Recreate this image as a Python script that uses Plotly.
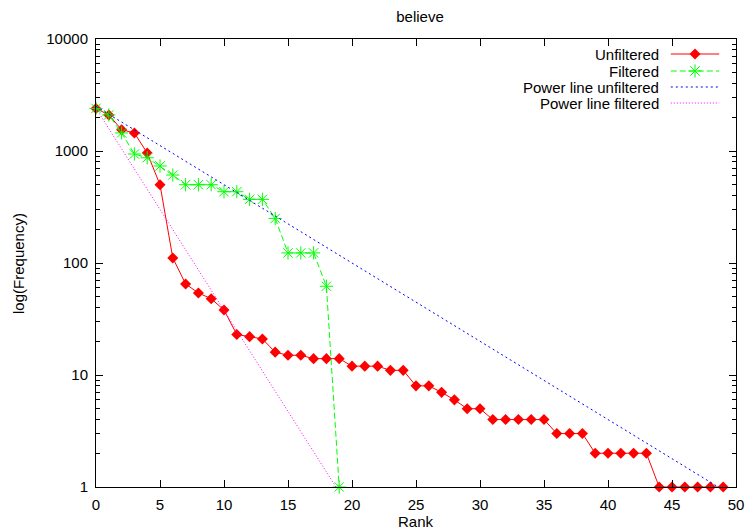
import plotly.graph_objects as go

# ---- data ----
rank = list(range(50))
unfiltered = [2400, 2100, 1550, 1450, 960, 500, 111, 65, 54, 48,
              38, 23, 22, 21, 16, 15, 15, 14, 14, 14,
              12, 12, 12, 11, 11, 8, 8, 7, 6, 5,
              5, 4, 4, 4, 4, 4, 3, 3, 3, 2,
              2, 2, 2, 2, 1, 1, 1, 1, 1, 1]
rank_filtered = list(range(20))
filtered = [2400, 2100, 1450, 940, 870, 735, 610, 500, 500, 500,
            433, 433, 370, 370, 250, 123, 123, 123, 62, 1]
power_unf_x = [0, 49]
power_unf_y = [2500, 0.94]
power_filt_x = [0, 19]
power_filt_y = [2400, 0.9]

x_ticks = [0, 5, 10, 15, 20, 25, 30, 35, 40, 45, 50]
y_ticks = [1, 10, 100, 1000, 10000]
y_ticktext = ["1", "10", "100", "1000", "10000"]
legend_names = ["Unfiltered", "Filtered", "Power line unfiltered", "Power line filtered"]

FONT = "Liberation Sans, Arial, Helvetica, sans-serif"
FS = 15
RED, GREEN, BLUE, MAG = "#ff0000", "#00ff00", "#0000ff", "#ff00ff"

styles = [
    dict(line=dict(color=RED, width=1), marker=dict(symbol="diamond", size=8.5, color=RED), mode="lines+markers"),
    dict(line=dict(color=GREEN, width=1, dash="6px,3px"),
         marker=dict(symbol="asterisk-open", size=11, color=GREEN, line=dict(color=GREEN, width=1)), mode="lines+markers"),
    dict(line=dict(color=BLUE, width=1, dash="2px,3px"), mode="lines"),
    dict(line=dict(color=MAG, width=1, dash="1px,2px"), mode="lines"),
]

fig = go.Figure()
series = [(rank, unfiltered), (rank_filtered, filtered), (power_unf_x, power_unf_y), (power_filt_x, power_filt_y)]
for (xs, ys), st, nm in zip(series, styles, legend_names):
    fig.add_trace(go.Scatter(x=xs, y=ys, name=nm, showlegend=False, cliponaxis=False, **st))

# ---- manual gnuplot-style legend (text right, sample left->right) on pixel overlay axes ----
L, R, T, B = 96, 744, 39, 487
row_y = [54, 71, 87, 103]
for nm, st, ry in zip(legend_names, styles, row_y):
    fig.add_trace(go.Scatter(x=[678, 727], y=[ry, ry], mode="lines", line=st["line"],
                             xaxis="x2", yaxis="y2", showlegend=False, hoverinfo="skip"))
    if "marker" in st:
        fig.add_trace(go.Scatter(x=[702.5], y=[ry], mode="markers", marker=st["marker"],
                                 xaxis="x2", yaxis="y2", showlegend=False, hoverinfo="skip"))
    fig.add_annotation(x=668, y=ry, xref="x2", yref="y2", text=nm, showarrow=False,
                       xanchor="right", yanchor="middle", font=dict(family=FONT, size=FS, color="black"))

minor_vals = [k * 10 ** d for d in range(4) for k in range(2, 10)]

fig.update_layout(
    width=755, height=531,
    margin=dict(l=L, r=755 - R, t=T, b=531 - B),
    paper_bgcolor="white", plot_bgcolor="white",
    font=dict(family=FONT, size=FS, color="black"),
    title=dict(text="believe", x=(L + R) / 2 / 755, xanchor="center", xref="container",
               y=1 - 17 / 531, yanchor="middle", yref="container",
               font=dict(family=FONT, size=FS, color="black")),
    xaxis=dict(range=[0, 50], tickmode="array", tickvals=x_ticks, ticks="inside", ticklen=7,
               tickcolor="black", showline=True, linecolor="black", linewidth=1, mirror="ticks",
               showgrid=False, zeroline=False, tickfont=dict(size=FS), ticklabelstandoff=4),
    yaxis=dict(type="log", range=[0, 4], tickmode="array", tickvals=y_ticks, ticktext=y_ticktext,
               ticks="inside", ticklen=7, tickcolor="black", showline=True, linecolor="black",
               linewidth=1, mirror="ticks", showgrid=False, zeroline=False, tickfont=dict(size=FS),
               minor=dict(tickmode="array", tickvals=minor_vals, ticks="inside", ticklen=4,
                          tickcolor="black", showgrid=False),
               ticklabelstandoff=4),
    xaxis2=dict(overlaying="x", range=[L, R], visible=False, fixedrange=True),
    yaxis2=dict(overlaying="y", range=[B, T], visible=False, fixedrange=True),
    showlegend=False,
)
fig.add_annotation(text="Rank", x=0.5, y=(B - 521) / (B - T), xref="paper", yref="paper",
                   showarrow=False, xanchor="center", yanchor="middle", font=dict(family=FONT, size=FS))
fig.add_annotation(text="log(Frequency)", x=(17 - L) / (R - L), y=0.5, xref="paper", yref="paper",
                   showarrow=False, textangle=-90, xanchor="center", yanchor="middle",
                   font=dict(family=FONT, size=FS))

fig.write_html("out.html", config={"displayModeBar": False},
               post_script="document.body.style.margin='0';document.body.style.padding='0';"
                           "document.body.style.overflow='hidden';")
